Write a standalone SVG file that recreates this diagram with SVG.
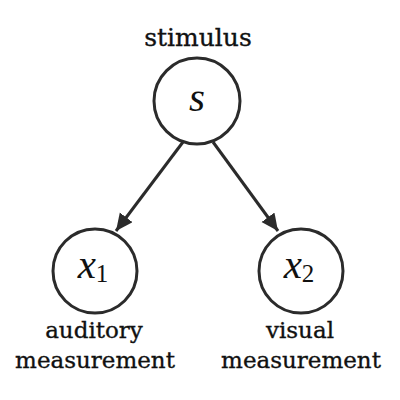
<svg xmlns="http://www.w3.org/2000/svg" width="400" height="400" viewBox="0 0 400 400">
<style>
.node{fill:#fff;stroke:#2b2b2b;stroke-width:3}
.lbl{font-family:"DejaVu Serif",serif;font-size:23px;fill:#111;stroke:#111;stroke-width:0.35;text-anchor:middle}
.var{font-family:"Liberation Serif",serif;font-style:italic;font-size:41px;fill:#111;text-anchor:middle}
.sub{font-style:normal;font-size:25px}
.edge{stroke:#2b2b2b;stroke-width:3;fill:none}
</style>
<defs>
<marker id="arr" markerUnits="userSpaceOnUse" markerWidth="20" markerHeight="20" refX="17" refY="8" orient="auto">
<path d="M0,0 L17,8 L0,16 Z" fill="#2b2b2b"/>
</marker>
</defs>
<rect width="400" height="400" fill="#fff"/>
<g id="connectors">
<line class="edge" x1="183" y1="142" x2="116" y2="231" marker-end="url(#arr)"/>
<line class="edge" x1="213" y1="142" x2="278" y2="231" marker-end="url(#arr)"/>
</g>
<g id="node-s">
<circle class="node" cx="197" cy="101" r="43"/>
<text class="var" x="197" y="111">s</text>
<text class="lbl" x="198" y="46" style="font-size:25px">stimulus</text>
</g>
<g id="node-x1">
<circle class="node" cx="95" cy="271" r="42"/>
<text class="var" x="93" y="278">x<tspan class="sub" dy="4">1</tspan></text>
<text class="lbl" x="94" y="338">auditory</text>
<text class="lbl" x="95" y="368">measurement</text>
</g>
<g id="node-x2">
<circle class="node" cx="301" cy="271" r="42"/>
<text class="var" x="299" y="278">x<tspan class="sub" dy="4">2</tspan></text>
<text class="lbl" x="300" y="338">visual</text>
<text class="lbl" x="301" y="368">measurement</text>
</g>
</svg>
